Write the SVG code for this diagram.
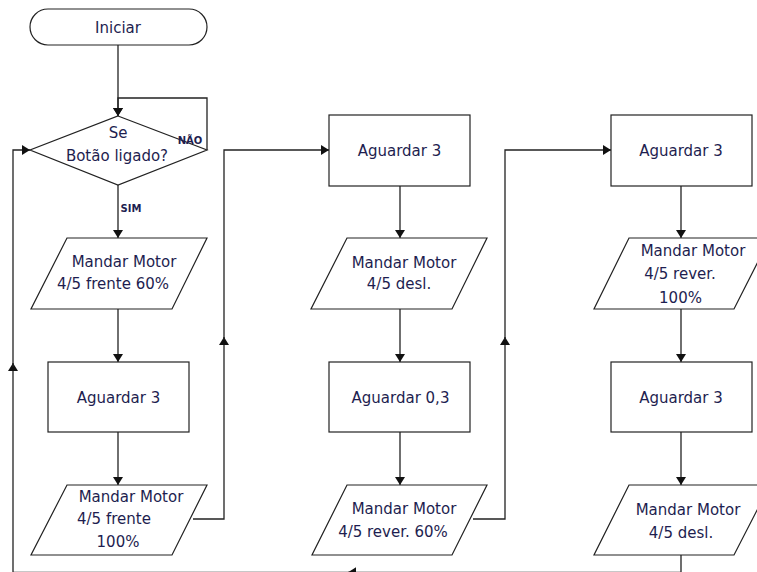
<svg xmlns="http://www.w3.org/2000/svg" width="757" height="572" viewBox="0 0 757 572">
<style>
.shape{fill:#fff;stroke:#222;stroke-width:1.2}
.conn{fill:none;stroke:#222;stroke-width:1.3}
.t{font-family:"DejaVu Sans",Verdana,sans-serif;font-size:15px;fill:#1e1e50;text-anchor:middle}
.s{font-family:"DejaVu Sans",Verdana,sans-serif;font-size:10px;font-weight:bold;fill:#1e1e50;text-anchor:middle}
</style>
<defs>
<marker id="ah" viewBox="0 0 8 10" markerUnits="userSpaceOnUse" markerWidth="8" markerHeight="10" refX="8" refY="5" orient="auto">
<path d="M0,0 L8,5 L0,10 z" fill="#111"/>
</marker>
</defs>
<rect width="757" height="572" fill="#fff"/>
<g id="connectors">
<path class="conn" d="M118,45 V116" marker-end="url(#ah)"/>
<path class="conn" d="M207,150 V98 H118 V116" marker-end="url(#ah)"/>
<path class="conn" d="M118,185 V238" marker-end="url(#ah)"/>
<path class="conn" d="M118,309 V362" marker-end="url(#ah)"/>
<path class="conn" d="M118,432 V485" marker-end="url(#ah)"/>
<path class="conn" d="M193,519 H224 V337" marker-end="url(#ah)"/>
<path class="conn" d="M224,340 V150 H329" marker-end="url(#ah)"/>
<path class="conn" d="M400,186 V238" marker-end="url(#ah)"/>
<path class="conn" d="M400,309 V362" marker-end="url(#ah)"/>
<path class="conn" d="M400,432 V485" marker-end="url(#ah)"/>
<path class="conn" d="M473,519 H505 V337" marker-end="url(#ah)"/>
<path class="conn" d="M505,340 V150 H611" marker-end="url(#ah)"/>
<path class="conn" d="M681,186 V238" marker-end="url(#ah)"/>
<path class="conn" d="M681,309 V362" marker-end="url(#ah)"/>
<path class="conn" d="M681,432 V485" marker-end="url(#ah)"/>
<path class="conn" d="M681,555 V572.3 H348" marker-end="url(#ah)"/>
<path class="conn" d="M352,572.3 H13 V363" marker-end="url(#ah)"/>
<path class="conn" d="M13,367 V150 H30" marker-end="url(#ah)"/>
</g>
<g id="start">
<rect class="shape" x="30" y="9" width="177" height="36" rx="18"/>
<text class="t" x="118" y="32.5">Iniciar</text>
</g>
<g id="decision">
<polygon class="shape" points="118,116 207,150 118,185 30,150"/>
<text class="t" x="118" y="137.5">Se</text>
<text class="t" x="117" y="161">Botão ligado?</text>
<text class="s" x="190" y="144">NÃO</text>
<text class="s" x="131" y="212">SIM</text>
</g>
<g id="out1">
<polygon class="shape" points="67,238 207,238 172,309 31,309"/>
<text class="t" x="124" y="266.5">Mandar Motor</text>
<text class="t" x="113" y="288.5">4/5 frente 60%</text>
</g>
<g id="wait1">
<rect class="shape" x="48" y="362" width="141" height="70"/>
<text class="t" x="118.5" y="402.5">Aguardar 3</text>
</g>
<g id="out2">
<polygon class="shape" points="67,485 207,485 172,555 31,555"/>
<text class="t" x="131" y="501.5">Mandar Motor</text>
<text class="t" x="77" y="523.5" style="text-anchor:start">4/5 frente</text>
<text class="t" x="118" y="547">100%</text>
</g>
<g id="wait2">
<rect class="shape" x="329" y="115" width="141" height="71"/>
<text class="t" x="399.5" y="155.5">Aguardar 3</text>
</g>
<g id="out3">
<polygon class="shape" points="347,238 487,238 452,309 311,309"/>
<text class="t" x="404" y="267.5">Mandar Motor</text>
<text class="t" x="399" y="288.5">4/5 desl.</text>
</g>
<g id="wait3">
<rect class="shape" x="329" y="362" width="141" height="70"/>
<text class="t" x="400.5" y="402.5">Aguardar 0,3</text>
</g>
<g id="out4">
<polygon class="shape" points="347,485 487,485 452,555 312,555"/>
<text class="t" x="404" y="513.5">Mandar Motor</text>
<text class="t" x="393" y="536.5">4/5 rever. 60%</text>
</g>
<g id="wait4">
<rect class="shape" x="611" y="115" width="141" height="71"/>
<text class="t" x="681" y="155.5">Aguardar 3</text>
</g>
<g id="out5">
<polygon class="shape" points="629,238 770,238 734,309 594,309"/>
<text class="t" x="693" y="255.5">Mandar Motor</text>
<text class="t" x="680" y="278.5">4/5 rever.</text>
<text class="t" x="680.5" y="302.5">100%</text>
</g>
<g id="wait5">
<rect class="shape" x="611" y="362" width="141" height="70"/>
<text class="t" x="681" y="402.5">Aguardar 3</text>
</g>
<g id="out6">
<polygon class="shape" points="629,485 770,485 734,555 594,555"/>
<text class="t" x="688" y="514.5">Mandar Motor</text>
<text class="t" x="681" y="537.5">4/5 desl.</text>
</g>
</svg>
